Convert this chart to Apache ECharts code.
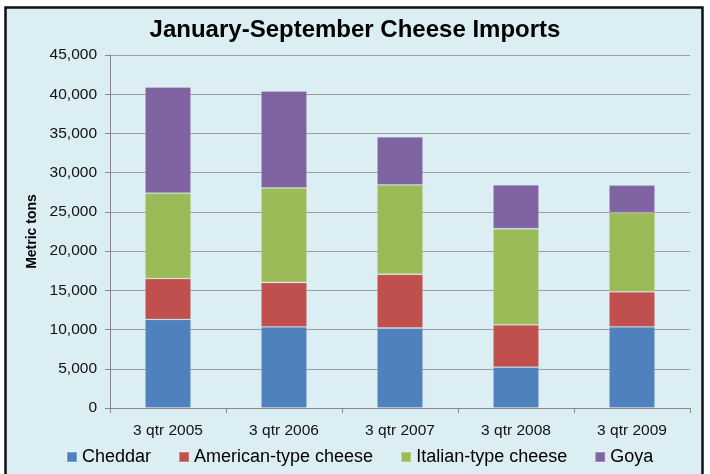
<!DOCTYPE html>
<html>
<head>
<meta charset="utf-8">
<script src="https://cdn.jsdelivr.net/npm/echarts@6/dist/echarts.min.js"></script>
<style>
html,body{margin:0;padding:0;background:#fff;}
#c{width:710px;height:474px;}
</style>
</head>
<body>
<div id="c"></div>
<script>
var categories = ['3 qtr 2005','3 qtr 2006','3 qtr 2007','3 qtr 2008','3 qtr 2009'];
var cheddar  = [11300, 10350, 10200, 5200, 10350];
var american = [5200, 5650, 6850, 5400, 4450];
var italian  = [10900, 12050, 11400, 12250, 10100];
var goya     = [13500, 12350, 6100, 5600, 3500];
var seriesNames = ['Cheddar','American-type cheese','Italian-type cheese','Goya'];
var colors = ['#4f81bd','#c0504d','#9bbb59','#8064a2'];
var dataSets = [cheddar, american, italian, goya];

var chart = echarts.init(document.getElementById('c'));
var font = 'Liberation Sans, Arial, sans-serif';
chart.setOption({
  backgroundColor: '#ffffff',
  animation: false,
  textStyle: {fontFamily: font},
  graphic: [{
    type: 'rect', z: -10, silent: true,
    shape: {x: 5.5, y: 7.5, width: 697, height: 480},
    style: {fill: '#dbeef4', stroke: '#111', lineWidth: 2.5}
  }],
  title: {
    text: 'January-September Cheese Imports',
    left: 'center', top: 13,
    textStyle: {fontFamily: font, fontSize: 24, fontWeight: 'bold', color: '#000'}
  },
  legend: {
    bottom: 3, left: 61,
    itemWidth: 10, itemHeight: 10, itemGap: 27,
    icon: 'rect',
    textStyle: {fontFamily: font, fontSize: 18, color: '#000'},
    data: seriesNames
  },
  grid: {left: 110, right: 20, top: 55, bottom: 66, containLabel: false},
  xAxis: {
    type: 'category', data: categories,
    axisLine: {lineStyle: {color: '#888', width: 1}},
    axisTick: {show: true, length: 5, lineStyle: {color: '#888'}},
    axisLabel: {fontFamily: font, fontSize: 15.5, color: '#111', margin: 15}
  },
  yAxis: {
    type: 'value', min: 0, max: 45000, interval: 5000,
    name: 'Metric tons', nameLocation: 'middle', nameGap: 70,
    nameTextStyle: {fontFamily: font, fontSize: 14, fontWeight: 'bold', color: '#000'},
    axisLine: {show: true, lineStyle: {color: '#888', width: 1}},
    axisTick: {show: true, length: 5, lineStyle: {color: '#888'}},
    axisLabel: {fontFamily: font, fontSize: 15.5, color: '#111', margin: 13,
      formatter: function(v){ return v.toLocaleString('en-US'); }},
    splitLine: {lineStyle: {color: '#9c9c9c', width: 1}}
  },
  series: dataSets.map(function(d, i){
    return {
      name: seriesNames[i], type: 'bar', stack: 'total',
      data: d, barWidth: 46,
      itemStyle: {color: colors[i], borderColor: 'rgba(255,255,255,0.25)', borderWidth: 0.8}
    };
  })
});
</script>
</body>
</html>
